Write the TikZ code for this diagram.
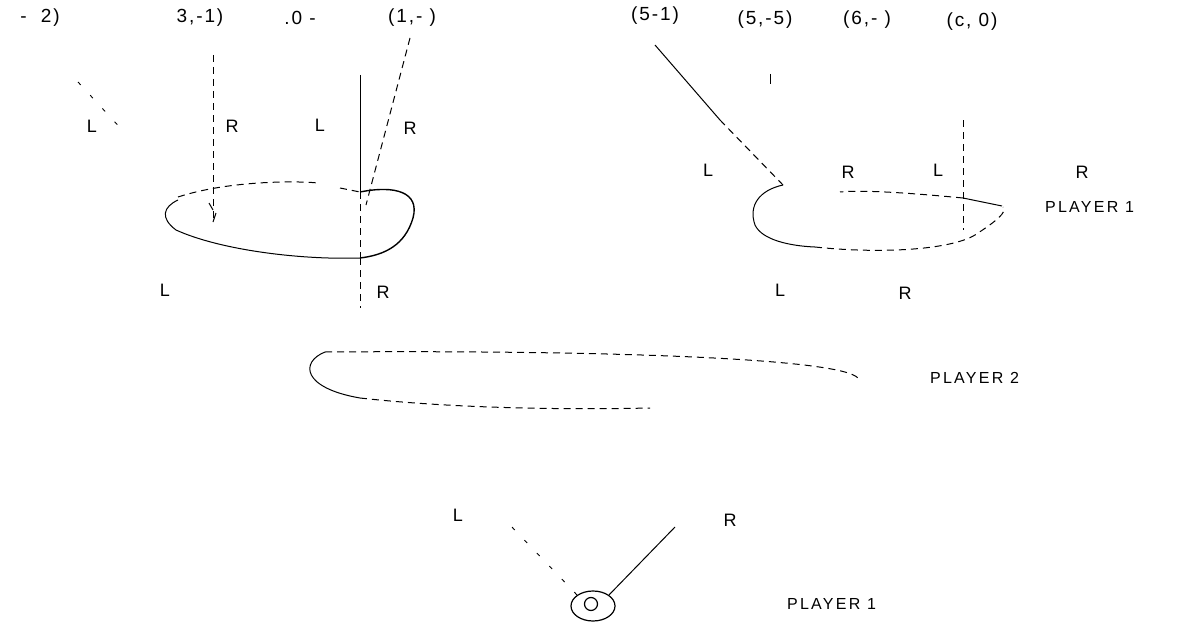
\documentclass[tikz,border=0pt]{standalone}
\usepackage{fontspec}
\setmainfont{Liberation Sans}
\newfontfamily\plfont[LetterSpace=14]{Liberation Sans}
\newfontfamily\payfont[LetterSpace=10]{Liberation Sans}
\usetikzlibrary{shapes.geometric}
\tikzset{
  solidedge/.style={line width=1pt, black},
  dashedge/.style={line width=1pt, black, dash pattern=on 7pt off 5pt},
  faintedge/.style={line width=0.9pt, black, dash pattern=on 4pt off 14pt},
  lbl/.style={font=\fontsize{18}{18}\selectfont, inner sep=0pt},
  pay/.style={font=\payfont\fontsize{19}{19}\selectfont, inner sep=0pt},
  pl/.style={font=\plfont\fontsize{16}{16}\selectfont, inner sep=0pt, anchor=west},
}
\begin{document}
\begin{tikzpicture}[x=1pt,y=-1pt]
\useasboundingbox (0,0) rectangle (1184,626);

% payoffs
\node[pay] (p1) at (40,18) {-\ \ 2)};
\node[pay] (p2) at (200,18) {3,-1)};
\node[pay] (p3) at (300,18) {.0 -};
\node[pay] (p4) at (412,18) {(1,- )};
\node[pay] (p5) at (655,16) {(5-1)};
\node[pay] (p6) at (765,20) {(5,-5)};
\node[pay] (p7) at (867,20) {(6,- )};
\node[pay] (p8) at (972,22) {(c, 0)};

% left player-1 information set
\coordinate (a) at (213,190);
\coordinate (b) at (360,192);
\coordinate (bb) at (360,258);
\draw[dashedge] (178,197) .. controls (230,180) and (300,181) .. (318,183);
\draw[dashedge] (340,188) -- (b);
\draw[solidedge, line width=1.4pt] (b) .. controls (395,185) and (420,192) .. (413,218)
   .. controls (405,245) and (385,255) .. (bb);
\draw[solidedge] (bb) .. controls (300,260) and (220,250) .. (176,230)
   .. controls (160,218) and (163,207) .. (178,200);

\coordinate (aT) at (213,55);
\coordinate (aL) at (78,82);
\coordinate (aM) at (125,133);
\coordinate (bT) at (360,75);
\coordinate (bR) at (410,38);
\coordinate (bD) at (360,308);
\draw[dashedge] (aT) -- (213,222);
\draw[solidedge] (213,210) -- (209,203) (213,222) -- (216,213);
\draw[faintedge] (aL) -- (aM);
\draw[solidedge] (bT) -- (b);
\draw[dashedge] (b) -- (bb);
\draw[dashedge] (bb) -- (bD);
\draw[dashedge] (bR) -- (366,205);

% right player-1 information set
\coordinate (c) at (783,185);
\coordinate (d) at (963,200);
\draw[solidedge] (c) .. controls (760,190) and (748,205) .. (755,225)
   .. controls (762,240) and (790,246) .. (815,247);
\draw[dashedge] (815,247) .. controls (880,254) and (950,250) .. (975,235)
   .. controls (995,222) and (1008,212) .. (1003,207);
\draw[solidedge] (963,198) -- (1002,206);
\draw[dashedge] (963,198) .. controls (900,192) and (860,190) .. (840,192);

\coordinate (cL) at (655,45);
\coordinate (dT) at (963,120);
\draw[solidedge] (cL) -- (720,120);
\draw[dashedge] (720,120) -- (c);
\draw[dashedge] (dT) -- (963,230);
\draw[solidedge] (770,74) -- (770,84);

% player-2 information set
\draw[solidedge] (325,352) .. controls (300,362) and (302,388) .. (360,398);
\draw[dashedge] (325,352) .. controls (600,350) and (840,358) .. (858,378);
\draw[dashedge] (360,398) .. controls (450,408) and (560,410) .. (650,408);

% root
\node[draw, ellipse, line width=1.2pt, minimum width=44pt, minimum height=30pt, inner sep=0pt] (root) at (593,606) {};
\node[draw, circle, line width=1.2pt, minimum size=13pt, inner sep=0pt] (rootin) at (591,604) {};
\coordinate (rL) at (510,525);
\coordinate (rR) at (675,527);
\draw[faintedge] (root.north west) -- (rL);
\draw[solidedge] (root.north east) -- (rR);

% action labels
\node[lbl] (l1) at (92,126) {L};
\node[lbl] (l2) at (232,126) {R};
\node[lbl] (l3) at (320,125) {L};
\node[lbl] (l4) at (410,128) {R};
\node[lbl] (l5) at (708,170) {L};
\node[lbl] (l6) at (848,172) {R};
\node[lbl] (l7) at (938,170) {L};
\node[lbl] (l8) at (1082,172) {R};
\node[lbl] (l9) at (165,290) {L};
\node[lbl] (l10) at (383,292) {R};
\node[lbl] (l11) at (780,290) {L};
\node[lbl] (l12) at (905,293) {R};
\node[lbl] (l13) at (458,515) {L};
\node[lbl] (l14) at (730,520) {R};

% player labels
\node[pl] (pl1) at (1045,207) {PLAYER 1};
\node[pl] (pl2) at (930,378) {PLAYER 2};
\node[pl] (pl3) at (787,604) {PLAYER 1};
\end{tikzpicture}
\end{document}
